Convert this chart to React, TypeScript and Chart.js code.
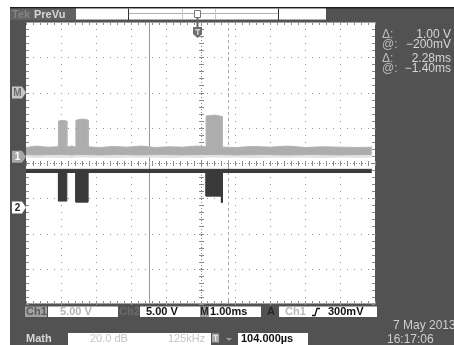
import React, { useEffect, useRef } from "react";
import { Chart, registerables } from "chart.js";
Chart.register(...registerables);

// horizontal: time in ms relative to screen centre (1.00 ms/div), vertical: divisions
const timeTicks = [-5, -4, -3, -2, -1, 0, 1, 2, 3, 4, 5];
const divTicks = [-4, -3, -2, -1, 0, 1, 2, 3, 4];

const ch1Time = [-5.0, -4.7, -4.4, -4.07, -4.07, -3.95, -3.83, -3.83, -3.7, -3.57, -3.57, -3.4, -3.22, -3.22, -2.9, -2.5, -2.1, -1.7, -1.3, -0.9, -0.5, -0.1, 0.16, 0.16, 0.4, 0.62, 0.62, 1.0, 1.5, 2.0, 2.5, 3.0, 3.5, 4.0, 4.5, 4.91];
const ch1Top = [0.44, 0.48, 0.45, 0.46, 1.19, 1.21, 1.19, 0.45, 0.48, 0.45, 1.21, 1.25, 1.22, 0.46, 0.44, 0.47, 0.45, 0.48, 0.44, 0.46, 0.45, 0.48, 0.46, 1.33, 1.36, 1.32, 0.45, 0.44, 0.47, 0.45, 0.48, 0.44, 0.46, 0.45, 0.44, 0.45];
const ch1Bottom = [0.24, 0.23, 0.24, 0.24, 0.24, 0.24, 0.24, 0.24, 0.23, 0.24, 0.24, 0.24, 0.24, 0.24, 0.23, 0.24, 0.24, 0.23, 0.24, 0.24, 0.23, 0.24, 0.24, 0.24, 0.24, 0.24, 0.24, 0.23, 0.24, 0.24, 0.23, 0.24, 0.24, 0.23, 0.24, 0.24];
const ch1Fuzz = [0.17, 0.15, 0.17, 0.16, 0.16, 0.16, 0.16, 0.17, 0.15, 0.17, 0.17, 0.17, 0.17, 0.16, 0.17, 0.15, 0.17, 0.16, 0.17, 0.15, 0.17, 0.16, 0.17, 0.17, 0.17, 0.17, 0.16, 0.17, 0.15, 0.17, 0.16, 0.17, 0.15, 0.17, 0.16, 0.17];

const ch2Time = [-5.0, -4.07, -4.07, -3.83, -3.83, -3.57, -3.57, -3.22, -3.22, 0.16, 0.16, 0.6, 0.6, 0.63, 0.63, 4.91];
const ch2Top = [-0.18, -0.18, -0.18, -0.18, -0.18, -0.18, -0.18, -0.18, -0.18, -0.18, -0.18, -0.18, -0.18, -0.18, -0.18, -0.18];
const ch2Bottom = [-0.27, -0.27, -1.08, -1.08, -0.27, -0.27, -1.11, -1.11, -0.27, -0.27, -0.94, -0.94, -1.12, -1.12, -0.27, -0.27];

const cursorTimes = [-1.48, 0.8];
const triggerTime = -0.1;
const markerLabels = ["M", "1", "2"];
const markerLevels = [2.0, 0.18, -1.26];

const readoutLabels = ["\u0394:", "@:", "\u0394:", "@:"];
const readoutValues = ["1.00 V", "\u2212200mV", "2.28ms", "\u22121.40ms"];

const toPts = (xs: number[], ys: number[]) => xs.map((x, i) => ({ x, y: ys[i] }));

const FONT = '"Liberation Sans", "DejaVu Sans", sans-serif';

function pentRight(ctx: CanvasRenderingContext2D, x0: number, yc: number, w: number, h: number) {
  ctx.beginPath();
  ctx.moveTo(x0, yc - h / 2);
  ctx.lineTo(x0 + w - 4, yc - h / 2);
  ctx.lineTo(x0 + w, yc);
  ctx.lineTo(x0 + w - 4, yc + h / 2);
  ctx.lineTo(x0, yc + h / 2);
  ctx.closePath();
}

const screenPlugin = {
  id: "screen",
  beforeDraw(chart: any) {
    const { ctx, chartArea: a } = chart;
    ctx.save();
    ctx.fillStyle = "#ffffff";
    ctx.fillRect(0, 0, 454, 345);
    ctx.fillStyle = "#525252";
    ctx.fillRect(10, 7, 444, 338);
    ctx.fillStyle = "#1a1a1a";
    ctx.fillRect(10, 7, 444, 1.5);
    ctx.fillStyle = "#ffffff";
    ctx.fillRect(a.left, a.top, a.right - a.left, a.bottom - a.top);
    ctx.restore();
  },
  beforeDatasetsDraw(chart: any) {
    const { ctx, chartArea: a, scales } = chart;
    const xs = scales.x, ys = scales.y;
    ctx.save();
    // dotted grid
    ctx.fillStyle = "#939393";
    for (const t of timeTicks) {
      if (t === timeTicks[0] || t === timeTicks[timeTicks.length - 1] || t === 0) continue;
      const px = Math.round(xs.getPixelForValue(t));
      for (let k = divTicks[0] * 5; k <= divTicks[divTicks.length - 1] * 5; k++) {
        ctx.fillRect(px, Math.round(ys.getPixelForValue(k / 5)), 1, 1);
      }
    }
    for (const d of divTicks) {
      if (d === divTicks[0] || d === divTicks[divTicks.length - 1] || d === 0) continue;
      const py = Math.round(ys.getPixelForValue(d));
      for (let k = timeTicks[0] * 5; k <= timeTicks[timeTicks.length - 1] * 5; k++) {
        ctx.fillRect(Math.round(xs.getPixelForValue(k / 5)), py, 1, 1);
      }
    }
    // centre axes with minor ticks
    ctx.fillStyle = "#8a8a8a";
    const cx = Math.round(xs.getPixelForValue(0));
    const cy = Math.round(ys.getPixelForValue(0));
    for (let p = a.top; p < a.bottom; p += 3) ctx.fillRect(cx, p, 1, 1);
    for (let p = a.left; p < a.right; p += 3) ctx.fillRect(p, cy, 1, 1);
    for (let k = divTicks[0] * 5; k <= divTicks[divTicks.length - 1] * 5; k++) {
      const py = Math.round(ys.getPixelForValue(k / 5));
      ctx.fillRect(cx - 2, py, 5, 1);
    }
    for (let k = timeTicks[0] * 5; k <= timeTicks[timeTicks.length - 1] * 5; k++) {
      const px = Math.round(xs.getPixelForValue(k / 5));
      ctx.fillRect(px, cy - 2, 1, 5);
    }
    // border ticks
    for (let k = timeTicks[0] * 5; k <= timeTicks[timeTicks.length - 1] * 5; k++) {
      const px = Math.round(xs.getPixelForValue(k / 5));
      ctx.fillRect(px, a.top, 1, 3);
      ctx.fillRect(px, a.bottom - 3, 1, 3);
    }
    for (let k = divTicks[0] * 5; k <= divTicks[divTicks.length - 1] * 5; k++) {
      const py = Math.round(ys.getPixelForValue(k / 5));
      ctx.fillRect(a.left, py, 3, 1);
      ctx.fillRect(a.right - 3, py, 3, 1);
    }
    ctx.fillStyle = "#a0a0a0";
    ctx.fillRect(a.left, a.top, a.right - a.left, 1);
    ctx.fillRect(a.left, a.bottom - 1, a.right - a.left, 1);
    // cursors
    const c1 = Math.round(xs.getPixelForValue(cursorTimes[0])) + 0.5;
    ctx.strokeStyle = "#9a9a9a";
    ctx.lineWidth = 1;
    ctx.beginPath();
    ctx.moveTo(c1, a.top);
    ctx.lineTo(c1, a.bottom);
    ctx.stroke();
    const c2 = Math.round(xs.getPixelForValue(cursorTimes[1])) + 0.5;
    ctx.setLineDash([3, 3]);
    ctx.strokeStyle = "#a8a8a8";
    ctx.beginPath();
    ctx.moveTo(c2, a.top);
    ctx.lineTo(c2, a.bottom);
    ctx.stroke();
    ctx.restore();
  },
  afterDraw(chart: any) {
    const { ctx, scales } = chart;
    const xs = scales.x, ys = scales.y;
    ctx.save();
    ctx.textBaseline = "middle";
    // header
    ctx.fillStyle = "#626262";
    ctx.fillRect(10, 8.5, 66, 11.5);
    ctx.font = `bold 11px ${FONT}`;
    ctx.fillStyle = "#858585";
    ctx.fillText("Tek", 12, 14.5);
    ctx.fillStyle = "#d8d8d8";
    ctx.fillText("PreVu", 34, 14.5);
    // record bar
    ctx.fillStyle = "#ffffff";
    ctx.fillRect(76, 8.5, 250, 11.5);
    ctx.fillStyle = "#b0b0b0";
    ctx.fillRect(128, 13, 150, 1);
    ctx.fillRect(76, 19, 250, 1);
    ctx.fillStyle = "#333";
    ctx.fillRect(128, 8.5, 1, 11.5);
    ctx.fillRect(278, 8.5, 1, 11.5);
    ctx.fillStyle = "#c8c8c8";
    ctx.fillRect(182, 9, 1, 10);
    ctx.fillRect(215, 9, 1, 10);
    // trigger markers
    const tx = xs.getPixelForValue(triggerTime);
    ctx.strokeStyle = "#777";
    ctx.fillStyle = "#ffffff";
    ctx.lineWidth = 1;
    ctx.beginPath();
    ctx.rect(tx - 2.5, 10.5, 6, 7);
    ctx.fill();
    ctx.stroke();
    ctx.fillStyle = "#666";
    ctx.fillRect(tx - 0.5, 18, 2, 9);
    ctx.beginPath();
    ctx.moveTo(tx - 4, 27);
    ctx.lineTo(tx + 5, 27);
    ctx.lineTo(tx + 5, 34);
    ctx.lineTo(tx + 0.5, 38);
    ctx.lineTo(tx - 4, 34);
    ctx.closePath();
    ctx.fillStyle = "#6c6c6c";
    ctx.fill();
    ctx.fillStyle = "#cfcfcf";
    ctx.fillRect(tx - 2, 29, 5, 1.5);
    ctx.fillRect(tx, 29, 1.5, 6);
    // left markers
    const mFill = ["#c8c8c8", "#a8a8a8", "#ffffff"];
    const mText = ["#6a6a6a", "#ffffff", "#222222"];
    ctx.font = `bold 10px ${FONT}`;
    ctx.textAlign = "center";
    markerLabels.forEach((lab, i) => {
      const yc = ys.getPixelForValue(markerLevels[i]);
      pentRight(ctx, 12, yc, 14, 12);
      ctx.fillStyle = mFill[i];
      ctx.fill();
      ctx.fillStyle = mText[i];
      ctx.fillText(lab, 17.5, yc + 0.5);
    });
    ctx.textAlign = "left";
    // right readouts
    ctx.font = `12px ${FONT}`;
    const ry = [35, 45, 59, 69];
    readoutLabels.forEach((l, i) => {
      ctx.fillStyle = "#bdbdbd";
      ctx.fillText(l, 382, ry[i]);
    });
    ctx.textAlign = "right";
    readoutValues.forEach((v, i) => {
      ctx.fillStyle = "#d6d6d6";
      ctx.fillText(v, 451, ry[i]);
    });
    ctx.textAlign = "left";
    // bottom row 1
    const r1 = 312;
    ctx.font = `bold 11px ${FONT}`;
    ctx.fillStyle = "#a2a2a2";
    ctx.fillRect(25, 306.5, 22, 10.5);
    ctx.fillStyle = "#5a5a5a";
    ctx.fillText("Ch1", 26, r1);
    ctx.fillStyle = "#ffffff";
    ctx.fillRect(48, 306.5, 70, 10.5);
    ctx.fillRect(140, 306.5, 60, 10.5);
    ctx.fillRect(209, 306.5, 52, 10.5);
    ctx.fillRect(279, 306.5, 98, 10.5);
    ctx.fillStyle = "#b4b4b4";
    ctx.fillText("5.00 V", 60, r1);
    ctx.fillStyle = "#6c6c6c";
    ctx.fillText("Ch2", 119, r1);
    ctx.fillStyle = "#111";
    ctx.fillText("5.00 V", 146, r1);
    ctx.fillStyle = "#a2a2a2";
    ctx.fillRect(200, 306.5, 9, 10.5);
    ctx.fillStyle = "#222";
    ctx.font = `bold 10px ${FONT}`;
    ctx.textAlign = "center";
    ctx.fillText("M", 204.5, r1);
    ctx.textAlign = "left";
    ctx.font = `bold 11px ${FONT}`;
    ctx.fillStyle = "#111";
    ctx.fillText("1.00ms", 210, r1);
    ctx.fillStyle = "#262626";
    ctx.fillText("A", 267, r1);
    ctx.fillStyle = "#b8b8b8";
    ctx.fillText("Ch1", 285, r1);
    ctx.strokeStyle = "#111";
    ctx.lineWidth = 1.3;
    ctx.beginPath();
    ctx.moveTo(312, 315.5);
    ctx.lineTo(315, 315.5);
    ctx.lineTo(317, 308.5);
    ctx.lineTo(320, 308.5);
    ctx.stroke();
    ctx.fillStyle = "#111";
    ctx.fillText("300mV", 328, r1);
    // bottom row 2
    const r2 = 339;
    ctx.fillStyle = "#d8d8d8";
    ctx.fillText("Math", 26, r2);
    ctx.fillStyle = "#ffffff";
    ctx.fillRect(68, 333, 143, 12);
    ctx.fillRect(238, 333, 70, 12);
    ctx.font = `11px ${FONT}`;
    ctx.fillStyle = "#c4c4c4";
    ctx.fillText("20.0 dB", 90, r2);
    ctx.fillText("125kHz", 168, r2);
    ctx.fillStyle = "#a8a8a8";
    ctx.fillRect(212, 333.5, 7, 9);
    ctx.fillStyle = "#e8e8e8";
    ctx.fillRect(213.5, 335, 4, 1.2);
    ctx.fillRect(215, 335, 1.2, 6);
    ctx.fillStyle = "#9a9a9a";
    ctx.beginPath();
    ctx.moveTo(226, 338);
    ctx.lineTo(232, 338);
    ctx.lineTo(229, 341);
    ctx.closePath();
    ctx.fill();
    ctx.font = `bold 11px ${FONT}`;
    ctx.fillStyle = "#111";
    ctx.fillText("104.000\u00b5s", 241, r2);
    ctx.font = `12px ${FONT}`;
    ctx.fillStyle = "#cfcfcf";
    ctx.fillText("7 May 2013", 393, 326);
    ctx.fillText("16:17:06", 387, 340);
    ctx.restore();
  },
};

export default function App() {
  const ref = useRef<HTMLCanvasElement>(null);
  useEffect(() => {
    const line = (data: any, color: string, fill: any, bg: string, w = 1) => ({
      data,
      borderColor: color,
      backgroundColor: bg,
      borderWidth: w,
      fill,
      pointRadius: 0,
      tension: 0,
      borderJoinStyle: "miter" as const,
    });
    const chart = new Chart(ref.current!, {
      type: "line",
      data: {
        datasets: [
          line(toPts(ch1Time, ch1Top), "#b2b2b2", "+1", "#adadad"),
          line(toPts(ch1Time, ch1Bottom), "#b0b0b0", "+1", "#e2e2e2"),
          line(toPts(ch1Time, ch1Fuzz), "#e6e6e6", false, "#e6e6e6"),
          line(toPts(ch2Time, ch2Top), "#3a3a3a", "+1", "#3a3a3a"),
          line(toPts(ch2Time, ch2Bottom), "#3a3a3a", false, "#3a3a3a"),
        ],
      },
      options: {
        animation: false,
        responsive: false,
        devicePixelRatio: 1,
        layout: { padding: { left: 26, right: 79, top: 22, bottom: 41 } },
        scales: {
          x: { type: "linear", min: timeTicks[0], max: timeTicks[timeTicks.length - 1], display: false },
          y: { type: "linear", min: divTicks[0], max: divTicks[divTicks.length - 1], display: false },
        },
        plugins: { legend: { display: false }, tooltip: { enabled: false } },
      },
      plugins: [screenPlugin],
    });
    return () => chart.destroy();
  }, []);
  return (
    <div style={{ position: "fixed", left: 0, top: 0, width: 454, height: 345 }}>
      <canvas ref={ref} width={454} height={345} style={{ display: "block", width: 454, height: 345 }} />
    </div>
  );
}
